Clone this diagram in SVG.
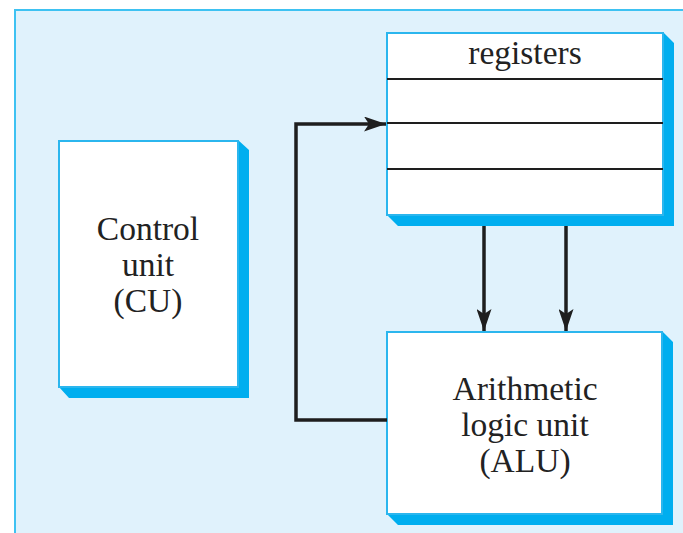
<svg xmlns="http://www.w3.org/2000/svg" width="683" height="533" viewBox="0 0 683 533">
  <defs>
    <style>
      .panel { fill: #e0f2fc; stroke: #3ec2f2; stroke-width: 2; }
      .shadow { fill: #00aeef; }
      .box { fill: #ffffff; stroke: #2bb6ee; stroke-width: 2; }
      .rule { stroke: #1e1e1e; stroke-width: 2; }
      .wire { fill: none; stroke: #1e1e1e; stroke-width: 3.5; }
      .label { font-family: "Liberation Serif", "Times New Roman", serif; font-size: 33.5px; fill: #222222; text-anchor: middle; }
    </style>
    <marker id="head" viewBox="0 0 22 15" refX="22" refY="7.5" markerWidth="22" markerHeight="15" markerUnits="userSpaceOnUse" orient="auto">
      <path d="M0,0 L22,7.5 L0,15 L5,7.5 Z" fill="#1e1e1e"/>
    </marker>
  </defs>

  <!-- background panel -->
  <rect class="panel" x="15" y="10" width="690" height="540"/>

  <!-- control unit -->
  <g id="control-unit">
    <path class="shadow" d="M238,140 L249,150 L249,398 L69,398 L59,387 L238,387 Z"/>
    <rect class="box" x="59" y="141" width="179" height="246"/>
    <text class="label" x="148" y="240">Control</text>
    <text class="label" x="148" y="276">unit</text>
    <text class="label" x="148" y="312">(CU)</text>
  </g>

  <!-- register file -->
  <g id="registers">
    <path class="shadow" d="M663,32 L674,43 L674,226 L398,226 L387,215 L663,215 Z"/>
    <rect class="box" x="387" y="33" width="276" height="182"/>
    <line class="rule" x1="387" y1="79" x2="663" y2="79"/>
    <line class="rule" x1="387" y1="123" x2="663" y2="123"/>
    <line class="rule" x1="387" y1="169" x2="663" y2="169"/>
    <text class="label" x="525" y="64">registers</text>
  </g>

  <!-- arithmetic logic unit -->
  <g id="alu">
    <path class="shadow" d="M662,331 L673,342 L673,525 L398,525 L387,514 L662,514 Z"/>
    <rect class="box" x="387" y="332" width="275" height="182"/>
    <text class="label" x="525" y="400">Arithmetic</text>
    <text class="label" x="525" y="436">logic unit</text>
    <text class="label" x="525" y="472">(ALU)</text>
  </g>

  <!-- data paths -->
  <g id="connectors">
    <line class="wire" x1="484" y1="226" x2="484" y2="331" marker-end="url(#head)"/>
    <line class="wire" x1="566" y1="226" x2="566" y2="331" marker-end="url(#head)"/>
    <path class="wire" d="M387,420 L296,420 L296,124 L386,124" marker-end="url(#head)"/>
  </g>
</svg>
